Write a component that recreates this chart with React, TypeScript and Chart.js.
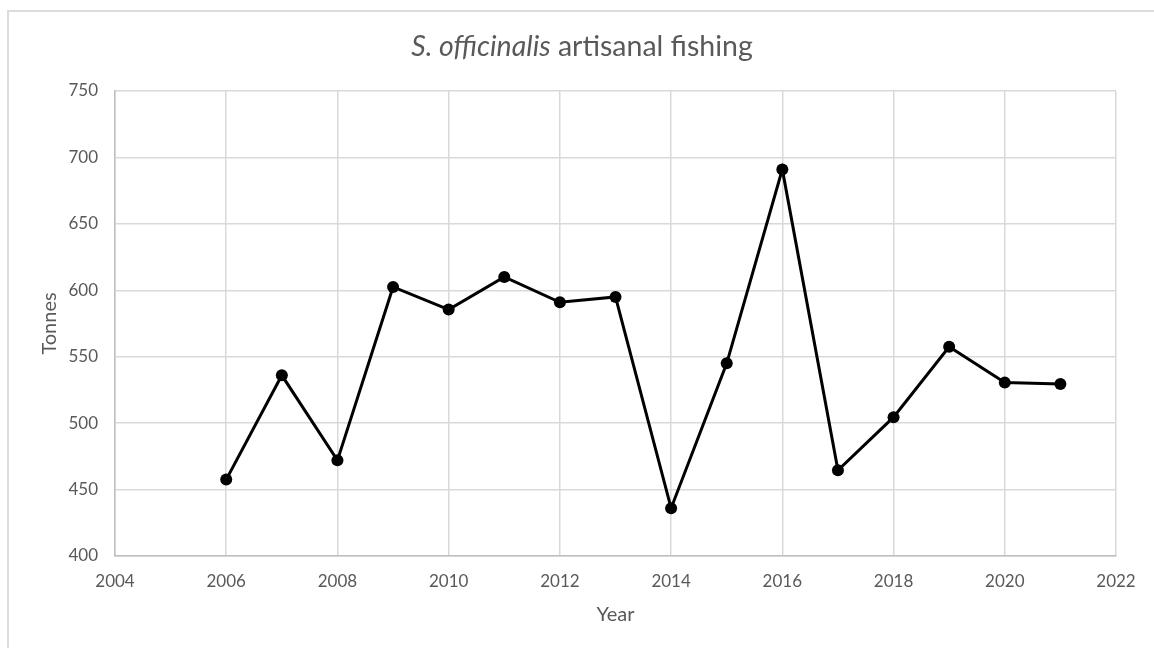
import React, { useEffect, useRef } from "react";
import { Chart, registerables } from "chart.js";

Chart.register(...registerables);

const years: number[] = [2006, 2007, 2008, 2009, 2010, 2011, 2012, 2013, 2014, 2015, 2016, 2017, 2018, 2019, 2020, 2021];
const tonnes: number[] = [457.5, 536, 472, 602.5, 585.5, 610, 591, 595, 436, 545, 691, 464.5, 504.5, 557.5, 530.5, 529.5];

const xMin = 2004;
const xMax = 2022;
const xStep = 2;
const yMin = 400;
const yMax = 750;
const yStep = 50;

const titleItalic = "S. officinalis";
const titleRest = " artisanal fishing";
const xTitle = "Year";
const yTitle = "Tonnes";

const FONT = "Lato, 'Open Sans', sans-serif";
const GREY = "#595959";

export default function App() {
  const canvasRef = useRef<HTMLCanvasElement | null>(null);

  useEffect(() => {
    if (!canvasRef.current) return;
    const chart = new Chart(canvasRef.current, {
      type: "line",
      data: {
        datasets: [
          {
            label: "Tonnes",
            data: years.map((y, i) => ({ x: y, y: tonnes[i] })),
            borderColor: "#000000",
            backgroundColor: "#000000",
            borderWidth: 3,
            pointRadius: 6,
            pointBackgroundColor: "#000000",
            pointBorderColor: "#000000",
            pointBorderWidth: 0,
            tension: 0,
          },
        ],
      },
      options: {
        animation: false,
        responsive: false,
        devicePixelRatio: 1,
        layout: { padding: { top: 91, right: 38, bottom: 0, left: 0 } },
        plugins: {
          legend: { display: false },
          title: { display: false },
          tooltip: { enabled: false },
        },
        scales: {
          x: {
            type: "linear",
            min: xMin,
            max: xMax,
            afterFit: (scale: any) => {
              scale.height = 92;
            },
            ticks: {
              stepSize: xStep,
              color: GREY,
              padding: 15,
              font: { family: FONT, size: 17 },
              callback: (v: any) => String(v),
              autoSkip: false,
              maxRotation: 0,
            },
            grid: { color: "#d9d9d9", lineWidth: 1.5, drawTicks: false },
            border: { color: "#bfbfbf", width: 1.5 },
            title: {
              display: true,
              text: xTitle,
              color: GREY,
              font: { family: FONT, size: 20 },
              padding: { top: 0, bottom: 21 },
            },
          },
          y: {
            type: "linear",
            min: yMin,
            max: yMax,
            afterFit: (scale: any) => {
              scale.width = 115;
            },
            ticks: {
              stepSize: yStep,
              color: GREY,
              padding: 17,
              font: { family: FONT, size: 17 },
            },
            grid: { color: "#d9d9d9", lineWidth: 1.5, drawTicks: false },
            border: { color: "#bfbfbf", width: 1.5 },
            title: {
              display: true,
              text: yTitle,
              color: GREY,
              font: { family: FONT, size: 20 },
              padding: { top: 38, bottom: 0 },
            },
          },
        },
      },
    });
    return () => chart.destroy();
  }, []);

  return (
    <div
      style={{
        position: "fixed",
        left: 0,
        top: 0,
        width: 1154,
        height: 648,
        background: "#ffffff",
        overflow: "hidden",
      }}
    >
      <div
        style={{
          position: "absolute",
          left: 7,
          top: 10,
          width: 1300,
          height: 800,
          border: "2px solid #dcdcdc",
        }}
      />
      <canvas
        ref={canvasRef}
        width={1154}
        height={648}
        style={{ position: "absolute", left: 0, top: 0, width: 1154, height: 648 }}
      />
      <div
        style={{
          position: "absolute",
          left: 0,
          width: 1164,
          top: 28,
          textAlign: "center",
          fontFamily: FONT,
          fontSize: 28.5,
          color: GREY,
          lineHeight: "34px",
          whiteSpace: "nowrap",
        }}
      >
        <span style={{ fontStyle: "italic" }}>{titleItalic}</span>
        <span>{titleRest}</span>
      </div>
    </div>
  );
}
